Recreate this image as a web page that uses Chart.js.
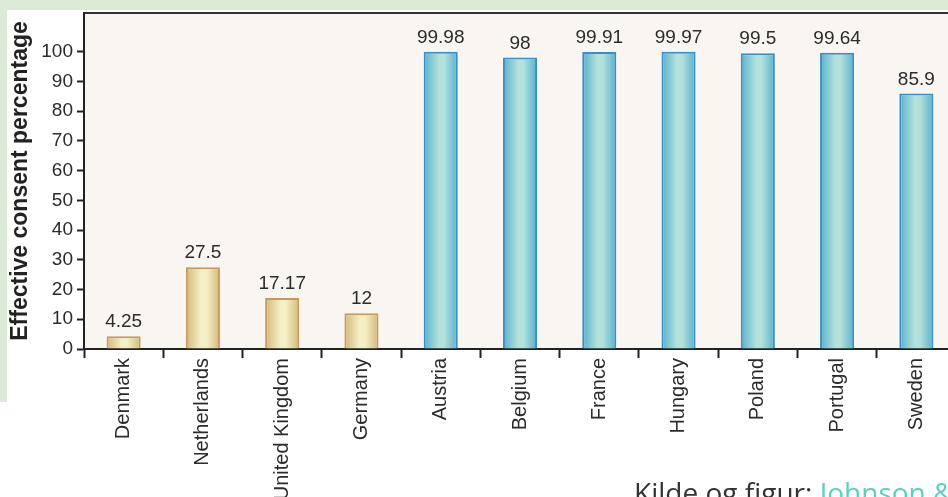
<!DOCTYPE html>
<html>
<head>
<meta charset="utf-8">
<script src="https://cdn.jsdelivr.net/npm/chart.js@4"></script>
<style>
  html, body { margin: 0; padding: 0; background: #fff; overflow: hidden; width: 948px; height: 497px; }
  .band-top { position: absolute; left: 0; top: 0; width: 948px; height: 10px; background: #dcebd6; }
  .band-left { position: absolute; left: 0; top: 0; width: 7px; height: 402px; background: #dcebd6; }
  .wrap { position: absolute; left: 7px; top: 10px; width: 950px; height: 487px; }
  .source { position: absolute; left: 634px; top: 473px; font-family: "Open Sans", sans-serif; font-size: 28px; color: #333; white-space: nowrap; }
  .source span { color: #5ccfc4; }
</style>
</head>
<body>
<div class="band-top"></div>
<div class="band-left"></div>
<div class="wrap"><canvas id="chart" width="950" height="487"></canvas></div>
<div class="source">Kilde og figur: <span>Johnson &amp; Goldstein</span></div>
<script>
const countries = ["Denmark", "Netherlands", "United Kingdom", "Germany", "Austria", "Belgium", "France", "Hungary", "Poland", "Portugal", "Sweden"];
const consent = [4.25, 27.5, 17.17, 12, 99.98, 98, 99.91, 99.97, 99.5, 99.64, 85.9];
const optIn = [true, true, true, true, false, false, false, false, false, false, false];
const yTicks = [0, 10, 20, 30, 40, 50, 60, 70, 80, 90, 100];

const BAR_PCT = 0.43;
const tanEdge = '#d3b877', tanMid = '#f4f0c6', tanLine = '#c9995a';
const cyanEdge = '#55b1d0', cyanMid = '#b4e1da', cyanLine = '#3a8ec6';

function barFill(ctx) {
  const chart = ctx.chart;
  const on = optIn[ctx.dataIndex];
  const xs = chart.scales.x;
  if (!xs || !xs.width) return on ? tanMid : cyanMid;
  const x = xs.getPixelForValue(ctx.dataIndex);
  const w = xs.width / countries.length * BAR_PCT;
  const g = chart.ctx.createLinearGradient(x - w / 2, 0, x + w / 2, 0);
  const edge = on ? tanEdge : cyanEdge, mid = on ? tanMid : cyanMid;
  g.addColorStop(0, edge);
  g.addColorStop(0.45, mid);
  g.addColorStop(0.6, mid);
  g.addColorStop(1, edge);
  return g;
}

const plotBackground = {
  id: 'plotBackground',
  beforeDraw(chart) {
    const { ctx, chartArea: a } = chart;
    ctx.save();
    ctx.fillStyle = '#f9f6f2';
    ctx.fillRect(a.left, a.top, a.right - a.left, a.bottom - a.top);
    ctx.strokeStyle = '#333';
    ctx.lineWidth = 2;
    ctx.beginPath();
    ctx.moveTo(a.left, a.top);
    ctx.lineTo(a.right, a.top);
    ctx.stroke();
    ctx.restore();
  }
};

const valueLabels = {
  id: 'valueLabels',
  afterDatasetsDraw(chart) {
    const { ctx } = chart;
    const meta = chart.getDatasetMeta(0);
    ctx.save();
    ctx.font = '19px "Liberation Sans", Arial, sans-serif';
    ctx.fillStyle = '#2b2b2b';
    ctx.textAlign = 'center';
    ctx.textBaseline = 'alphabetic';
    meta.data.forEach((bar, i) => {
      ctx.fillText(String(consent[i]), bar.x, bar.y - 9);
    });
    ctx.restore();
  }
};

new Chart(document.getElementById('chart'), {
  type: 'bar',
  plugins: [plotBackground, valueLabels],
  data: {
    labels: countries,
    datasets: [{
      data: consent,
      backgroundColor: barFill,
      borderColor: countries.map((c, i) => optIn[i] ? tanLine : cyanLine),
      borderWidth: 2,
      borderSkipped: 'bottom',
      barPercentage: BAR_PCT,
      categoryPercentage: 1
    }]
  },
  options: {
    responsive: false,
    animation: false,
    layout: { padding: { top: 3, right: 1 } },
    plugins: { legend: { display: false }, tooltip: { enabled: false } },
    scales: {
      x: {
        offset: true,
        grid: { display: true, drawOnChartArea: false, offset: true, tickLength: 9, tickColor: '#222', tickWidth: 2 },
        border: { display: true, color: '#222', width: 2 },
        ticks: {
          color: '#2b2b2b',
          font: { family: '"Liberation Sans", Arial, sans-serif', size: 20 },
          minRotation: 90, maxRotation: 90, padding: 0
        },
        afterFit(s) { s.height = 148; s.paddingLeft = 0; s.paddingRight = 0; }
      },
      y: {
        min: 0,
        max: 113,
        afterBuildTicks(s) { s.ticks = yTicks.map(v => ({ value: v })); },
        grid: { display: true, drawOnChartArea: false, tickLength: 7, tickColor: '#222', tickWidth: 2 },
        border: { display: true, color: '#222', width: 2 },
        ticks: {
          color: '#2b2b2b',
          padding: 4,
          font: { family: '"Liberation Sans", Arial, sans-serif', size: 19 }
        },
        title: {
          display: true,
          text: 'Effective consent percentage',
          color: '#222',
          padding: { top: 0, bottom: 0 },
          font: { family: '"Liberation Sans", Arial, sans-serif', size: 23, weight: 'bold' }
        },
        afterFit(s) { s.width = 77; s.paddingTop = 0; s.paddingBottom = 0; }
      }
    }
  }
});
</script>
</body>
</html>
